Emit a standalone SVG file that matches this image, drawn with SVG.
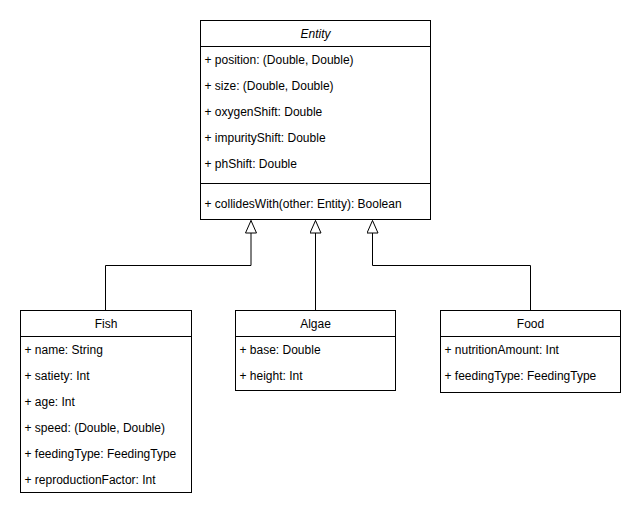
<svg xmlns="http://www.w3.org/2000/svg" width="642" height="516" viewBox="0 0 642 516">
<style>
  .box{fill:#fff;stroke:#000;stroke-width:1}
  .ln{stroke:#000;stroke-width:1;fill:none}
  text{font-family:"Liberation Sans",Arial,sans-serif;font-size:12px;fill:#000;dominant-baseline:central}
  .title{text-anchor:middle}
  .it{font-style:italic}
  .edge{stroke:#000;stroke-width:1;fill:none;marker-end:url(#inh)}
</style>
<defs>
  <marker id="inh" markerUnits="userSpaceOnUse" markerWidth="14" markerHeight="13" refX="13" refY="6" orient="auto">
    <path d="M0.5,0.5 L13,6 L0.5,11.5 Z" fill="#fff" stroke="#000" stroke-width="1"/>
  </marker>
</defs>
<rect width="642" height="516" fill="#fff"/>
<g id="connectors">
  <path class="edge" d="M105.5 310 V265.5 H251 V220.5"/>
  <path class="edge" d="M315.5 310 V220.5"/>
  <path class="edge" d="M530.5 310 V265.5 H372.5 V220.5"/>
</g>
<g id="Entity">
  <rect class="box" x="200.5" y="20.5" width="230" height="199"/>
  <line class="ln" x1="200.5" y1="46.5" x2="430.5" y2="46.5"/>
  <line class="ln" x1="200.5" y1="183.5" x2="430.5" y2="183.5"/>
  <text class="title it" x="315.5" y="34">Entity</text>
  <text x="204.5" y="59.5">+ position: (Double, Double)</text>
  <text x="204.5" y="85.5">+ size: (Double, Double)</text>
  <text x="204.5" y="111.5">+ oxygenShift: Double</text>
  <text x="204.5" y="137.5">+ impurityShift: Double</text>
  <text x="204.5" y="163.5">+ phShift: Double</text>
  <text x="204.5" y="204">+ collidesWith(other: Entity): Boolean</text>
</g>
<g id="Fish">
  <rect class="box" x="20.5" y="310.5" width="171" height="182"/>
  <line class="ln" x1="20.5" y1="336.5" x2="191.5" y2="336.5"/>
  <text class="title" x="106" y="324">Fish</text>
  <text x="24.5" y="349.5">+ name: String</text>
  <text x="24.5" y="375.5">+ satiety: Int</text>
  <text x="24.5" y="401.5">+ age: Int</text>
  <text x="24.5" y="427.5">+ speed: (Double, Double)</text>
  <text x="24.5" y="453.5">+ feedingType: FeedingType</text>
  <text x="24.5" y="479.5">+ reproductionFactor: Int</text>
</g>
<g id="Algae">
  <rect class="box" x="235.5" y="310.5" width="160" height="80"/>
  <line class="ln" x1="235.5" y1="336.5" x2="395.5" y2="336.5"/>
  <text class="title" x="315.5" y="324">Algae</text>
  <text x="239.5" y="349.5">+ base: Double</text>
  <text x="239.5" y="375.5">+ height: Int</text>
</g>
<g id="Food">
  <rect class="box" x="440.5" y="310.5" width="180" height="82"/>
  <line class="ln" x1="440.5" y1="336.5" x2="620.5" y2="336.5"/>
  <text class="title" x="530.5" y="324">Food</text>
  <text x="444.5" y="349.5">+ nutritionAmount: Int</text>
  <text x="444.5" y="375.5">+ feedingType: FeedingType</text>
</g>
</svg>
